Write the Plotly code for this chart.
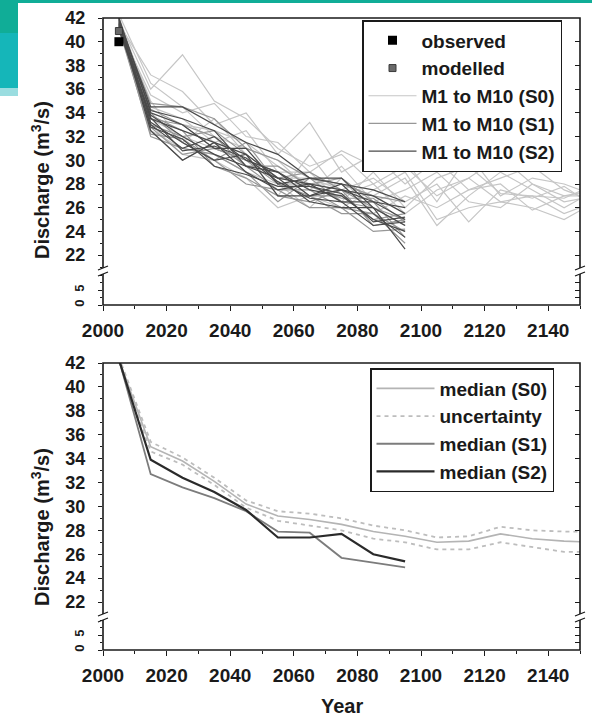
import plotly.graph_objects as go

# ---------------- data ----------------
years_s0 = [2005, 2015, 2025, 2035, 2045, 2055, 2065, 2075, 2085, 2095,
            2105, 2115, 2125, 2135, 2145, 2155]
years_s12 = [2005, 2015, 2025, 2035, 2045, 2055, 2065, 2075, 2085, 2095]

obs_year = [2005]
obs_value = [40.0]
mod_year = [2005]
mod_value = [40.9]

s0_runs = [
    [41.8, 36.0, 38.9, 35.0, 33.5, 31.0, 29.5, 30.5, 28.0, 29.5, 27.0, 28.5, 30.3, 28.0, 27.0, 27.5],
    [41.5, 37.2, 35.8, 33.0, 34.0, 30.5, 33.2, 29.0, 30.5, 28.0, 30.0, 27.5, 28.5, 29.5, 27.5, 26.5],
    [41.2, 35.5, 34.0, 34.8, 32.0, 31.5, 29.0, 30.8, 29.5, 30.0, 26.5, 30.5, 27.0, 28.5, 28.0, 27.0],
    [42.0, 34.0, 33.0, 32.5, 31.5, 29.5, 28.0, 28.0, 27.0, 28.5, 24.5, 27.0, 29.0, 27.5, 26.0, 27.5],
    [41.0, 33.5, 32.0, 31.0, 30.0, 28.5, 28.5, 27.5, 28.5, 26.5, 28.0, 24.8, 27.5, 26.8, 27.8, 26.0],
    [42.3, 36.5, 34.5, 32.0, 31.0, 30.0, 27.5, 29.5, 26.5, 27.5, 29.0, 26.5, 26.0, 28.0, 26.5, 27.0],
    [41.6, 35.0, 31.5, 33.5, 30.5, 27.0, 30.5, 27.0, 28.0, 25.5, 27.5, 28.5, 26.5, 27.0, 25.5, 26.5],
    [41.4, 32.5, 31.0, 30.5, 29.0, 28.0, 26.0, 28.5, 25.5, 27.0, 26.0, 27.5, 28.0, 25.8, 27.0, 27.0],
    [42.1, 34.5, 33.5, 31.5, 32.5, 29.0, 29.0, 26.5, 29.0, 26.0, 28.5, 29.5, 27.2, 27.0, 26.8, 28.0],
    [41.3, 33.0, 30.5, 30.0, 28.5, 26.0, 27.0, 26.0, 27.5, 29.0, 25.0, 26.0, 26.5, 26.0, 25.0, 26.5],
]
s1_runs = [
    [41.5, 34.8, 34.5, 33.5, 31.0, 30.0, 28.5, 28.0, 27.0, 26.5],
    [41.2, 33.0, 32.0, 32.5, 30.5, 28.5, 29.0, 27.5, 26.0, 25.0],
    [41.8, 32.5, 30.0, 31.5, 29.5, 27.5, 27.5, 26.0, 25.5, 24.0],
    [41.0, 33.5, 33.0, 31.0, 30.0, 29.0, 27.0, 27.0, 25.0, 25.5],
    [42.0, 34.0, 31.5, 30.0, 31.5, 28.0, 28.0, 28.5, 26.5, 23.5],
    [41.4, 32.0, 31.0, 30.5, 29.0, 26.5, 28.5, 26.5, 26.0, 24.5],
    [41.7, 33.8, 32.5, 29.5, 28.5, 27.0, 26.5, 27.5, 24.5, 25.0],
    [41.3, 32.8, 30.5, 31.0, 30.0, 28.0, 27.0, 25.5, 25.5, 23.0],
    [41.9, 34.3, 33.0, 32.0, 29.5, 29.5, 27.8, 26.8, 26.8, 24.8],
    [41.1, 32.2, 31.8, 30.0, 28.0, 27.5, 26.0, 26.0, 24.0, 24.2],
]
s2_runs = [
    [41.8, 34.5, 34.5, 33.0, 31.5, 30.5, 28.5, 28.0, 27.5, 26.5],
    [41.5, 33.5, 32.5, 31.5, 30.5, 28.5, 28.0, 27.5, 26.5, 26.0],
    [41.2, 33.0, 31.0, 32.0, 30.0, 29.0, 27.0, 27.5, 27.0, 25.5],
    [42.0, 34.0, 33.0, 31.0, 31.0, 28.0, 28.5, 28.5, 26.0, 24.5],
    [41.6, 32.5, 30.0, 31.5, 29.0, 27.5, 28.0, 26.5, 26.5, 25.0],
    [41.0, 33.8, 32.0, 30.5, 29.5, 29.0, 27.5, 27.0, 25.0, 24.0],
    [41.9, 33.2, 31.5, 30.0, 30.5, 27.0, 27.0, 28.0, 25.5, 23.5],
    [41.4, 34.2, 33.5, 32.5, 29.5, 28.5, 26.5, 26.0, 26.0, 22.5],
    [41.7, 32.8, 31.8, 29.5, 28.8, 27.8, 27.8, 27.2, 24.8, 25.2],
    [41.3, 33.6, 30.8, 31.2, 30.2, 28.2, 26.8, 26.5, 24.5, 24.8],
]

median_s0 = [42.3, 35.0, 33.8, 32.1, 30.2, 29.2, 28.9, 28.5, 27.9, 27.5, 27.0, 27.1, 27.7, 27.3, 27.1, 27.0]
unc_upper = [42.5, 35.4, 34.1, 32.4, 30.5, 29.6, 29.4, 29.0, 28.4, 28.0, 27.4, 27.5, 28.3, 28.0, 27.9, 27.9]
unc_lower = [42.1, 34.6, 33.5, 31.8, 29.9, 28.8, 28.4, 28.0, 27.3, 27.0, 26.4, 26.4, 27.0, 26.6, 26.2, 26.2]
median_s1 = [42.3, 32.7, 31.6, 30.7, 29.6, 27.9, 27.8, 25.7, 25.3, 24.9]
median_s2 = [42.3, 33.9, 32.4, 31.2, 29.7, 27.4, 27.4, 27.7, 26.0, 25.4]

y_upper_ticks = list(range(22, 43, 2))
y_lower_ticks = [0, 5]
x_ticks = list(range(2000, 2141, 20))

# ---------------- styling ----------------
W, H = 592, 720
FONT = "Liberation Sans, Arial, sans-serif"
INK = "#1a1a1a"
C_S0, C_S1, C_S2 = "#c6c6c6", "#979797", "#4a4a4a"


def px(x):
    return x / W


def py(y):
    return 1 - y / H


def font(size, bold=True):
    return dict(family=FONT, size=size, color=INK, weight=("bold" if bold else "normal"))


fig = go.Figure()

# ---- top panel ----
for i, run in enumerate(s0_runs):
    fig.add_trace(go.Scatter(x=years_s0, y=run, mode="lines", xaxis="x", yaxis="y",
                             line=dict(color=C_S0, width=1.2), name="M1 to M10 (S0)",
                             legendgroup="s0", showlegend=(i == 0), legendrank=3,
                             legend="legend"))
for i, run in enumerate(s1_runs):
    fig.add_trace(go.Scatter(x=years_s12, y=run, mode="lines", xaxis="x", yaxis="y",
                             line=dict(color=C_S1, width=1.2), name="M1 to M10 (S1)",
                             legendgroup="s1", showlegend=(i == 0), legendrank=4,
                             legend="legend"))
for i, run in enumerate(s2_runs):
    fig.add_trace(go.Scatter(x=years_s12, y=run, mode="lines", xaxis="x", yaxis="y",
                             line=dict(color=C_S2, width=1.2), name="M1 to M10 (S2)",
                             legendgroup="s2", showlegend=(i == 0), legendrank=5,
                             legend="legend"))
fig.add_trace(go.Scatter(x=mod_year, y=mod_value, mode="markers", xaxis="x", yaxis="y",
                         marker=dict(symbol="square", size=7, color="#6a6a6a",
                                     line=dict(color="#3a3a3a", width=1)),
                         name="modelled", legendgroup="mod", legendrank=2, legend="legend"))
fig.add_trace(go.Scatter(x=obs_year, y=obs_value, mode="markers", xaxis="x", yaxis="y",
                         marker=dict(symbol="square", size=9, color="#000000"),
                         name="observed", legendgroup="obs", legendrank=1, legend="legend"))

# ---- bottom panel ----
fig.add_trace(go.Scatter(x=years_s0, y=median_s0, mode="lines", xaxis="x2", yaxis="y5",
                         line=dict(color="#b4b4b4", width=1.6), name="median (S0)",
                         legendgroup="m0", legendrank=1, legend="legend2"))
fig.add_trace(go.Scatter(x=years_s0, y=unc_upper, mode="lines", xaxis="x2", yaxis="y5",
                         line=dict(color="#bdbdbd", width=1.8, dash="4px,4px"),
                         name="uncertainty", legendgroup="unc", legendrank=2,
                         legend="legend2"))
fig.add_trace(go.Scatter(x=years_s0, y=unc_lower, mode="lines", xaxis="x2", yaxis="y5",
                         line=dict(color="#bdbdbd", width=1.8, dash="4px,4px"),
                         name="uncertainty", legendgroup="unc", showlegend=False,
                         legend="legend2"))
fig.add_trace(go.Scatter(x=years_s12, y=median_s1, mode="lines", xaxis="x2", yaxis="y5",
                         line=dict(color="#7c7c7c", width=1.8), name="median (S1)",
                         legendgroup="m1", legendrank=3, legend="legend2"))
fig.add_trace(go.Scatter(x=years_s12, y=median_s2, mode="lines", xaxis="x2", yaxis="y5",
                         line=dict(color="#2a2a2a", width=2.2), name="median (S2)",
                         legendgroup="m2", legendrank=4, legend="legend2"))

# empty traces so that every axis pair (broken-axis segments, right-hand tick axes) is drawn
for xa, ya in [("x", "y2"), ("x", "y3"), ("x", "y4"),
               ("x2", "y6"), ("x2", "y7"), ("x2", "y8")]:
    fig.add_trace(go.Scatter(x=[], y=[], mode="lines", xaxis=xa, yaxis=ya,
                             showlegend=False, hoverinfo="skip"))

# ---------------- axes ----------------
XDOM = [px(103), px(580)]


def left_axis(dom, rng, tv, minor_dt, anchor, small=False):
    ax = dict(domain=dom, range=rng, tickvals=tv, ticks="outside", ticklen=4,
              tickwidth=1.2, tickcolor=INK, tickfont=font(18), showline=False,
              showgrid=False, zeroline=False, anchor=anchor, automargin=False,
              minor=dict(dtick=minor_dt, tick0=0, ticks="outside", ticklen=2,
                         tickcolor=INK, tickwidth=1), ticklabelstandoff=9)
    if small:
        ax["tickfont"] = font(13)
        ax["tickangle"] = -90
        ax["ticklabelstandoff"] = 9
    return ax


def right_axis(over, rng, tv, anchor):
    return dict(overlaying=over, side="right", range=rng, tickvals=tv, ticks="inside",
                ticklen=5, tickwidth=1.2, tickcolor=INK, showticklabels=False,
                showline=False, showgrid=False, zeroline=False, anchor=anchor,
                automargin=False)


def x_axis(anchor):
    return dict(domain=XDOM, anchor=anchor, range=[2000, 2150], tickvals=x_ticks,
                ticks="outside", ticklen=5, tickwidth=1.2, tickcolor=INK,
                tickfont=font(19), showline=False, showgrid=False, zeroline=False,
                automargin=False,
                minor=dict(dtick=10, tick0=2000, ticks="outside", ticklen=3,
                           tickcolor=INK), ticklabelstandoff=3)


ya1 = left_axis([py(267), py(18)], [21, 42], y_upper_ticks, 1, "x")
ya2 = left_axis([py(305), py(275)], [0, 10], y_lower_ticks, 2.5, "x", small=True)
ya5 = left_axis([py(614), py(363)], [21, 42], y_upper_ticks, 1, "x2")
ya6 = left_axis([py(650), py(620)], [0, 10], y_lower_ticks, 2.5, "x2", small=True)
ya3 = right_axis("y", [21, 42], y_upper_ticks, "x")
ya4 = right_axis("y2", [0, 10], [2.5, 5, 7.5], "x")
ya7 = right_axis("y5", [21, 42], y_upper_ticks, "x2")
ya8 = right_axis("y6", [0, 10], [2.5, 5, 7.5], "x2")

# ---------------- decorations ----------------
shapes = []
# teal corner of the page background
shapes.append(dict(type="rect", xref="paper", yref="paper", x0=0, x1=1, y0=py(3), y1=1,
                   fillcolor="#10ad97", line=dict(width=0), layer="above"))
shapes.append(dict(type="rect", xref="paper", yref="paper", x0=0, x1=px(18), y0=py(33), y1=1,
                   fillcolor="#10ad97", line=dict(width=0), layer="above"))
shapes.append(dict(type="rect", xref="paper", yref="paper", x0=0, x1=px(18), y0=py(88), y1=py(33),
                   fillcolor="#15b6b9", line=dict(width=0), layer="above"))
shapes.append(dict(type="rect", xref="paper", yref="paper", x0=0, x1=px(18), y0=py(96), y1=py(88),
                   fillcolor="#9adde0", line=dict(width=0), layer="above"))

for top, bot, brk in [(18, 305, 271), (363, 650, 617)]:
    shapes.append(dict(type="rect", xref="paper", yref="paper", x0=px(103), x1=px(580),
                       y0=py(bot), y1=py(top), line=dict(color=INK, width=1.6),
                       layer="above"))
    for xa in (103, 580):
        shapes.append(dict(type="rect", xref="paper", yref="paper", x0=px(xa - 3),
                           x1=px(xa + 3), y0=py(brk + 3), y1=py(brk - 3),
                           fillcolor="white", line=dict(width=0), layer="above"))
        for dy in (-3, 3):
            shapes.append(dict(type="line", xref="paper", yref="paper", x0=px(xa - 5),
                               x1=px(xa + 5), y0=py(brk + dy + 2), y1=py(brk + dy - 2),
                               line=dict(color=INK, width=1.2), layer="above"))

annotations = []
for yc in (180, 527):
    annotations.append(dict(text="Discharge (m<sup>3</sup>/s)", xref="paper", yref="paper",
                            x=px(40), y=py(yc), showarrow=False, textangle=-90,
                            font=font(20), xanchor="center", yanchor="middle"))
annotations.append(dict(text="Year", xref="paper", yref="paper", x=px(342), y=py(706),
                        showarrow=False, font=font(20), xanchor="center",
                        yanchor="middle"))

legend_common = dict(bgcolor="white", bordercolor=INK, borderwidth=1.5,
                     font=font(19), xanchor="left", yanchor="top",
                     traceorder="grouped", tracegroupgap=0)

fig.update_layout(
    width=W, height=H, autosize=False,
    margin=dict(l=0, r=0, t=0, b=0, pad=0),
    paper_bgcolor="white", plot_bgcolor="white",
    showlegend=True,
    xaxis=x_axis("y2"), xaxis2=x_axis("y6"),
    yaxis=ya1, yaxis2=ya2, yaxis3=ya3, yaxis4=ya4,
    yaxis5=ya5, yaxis6=ya6, yaxis7=ya7, yaxis8=ya8,
    legend=dict(x=px(362), y=py(20), itemwidth=48, **legend_common),
    legend2=dict(x=px(370), y=py(368), itemwidth=58, **legend_common),
    shapes=shapes, annotations=annotations,
)

fig.write_html("out.html", config={"responsive": False, "displayModeBar": False},
               post_script="document.body.style.margin='0';")
